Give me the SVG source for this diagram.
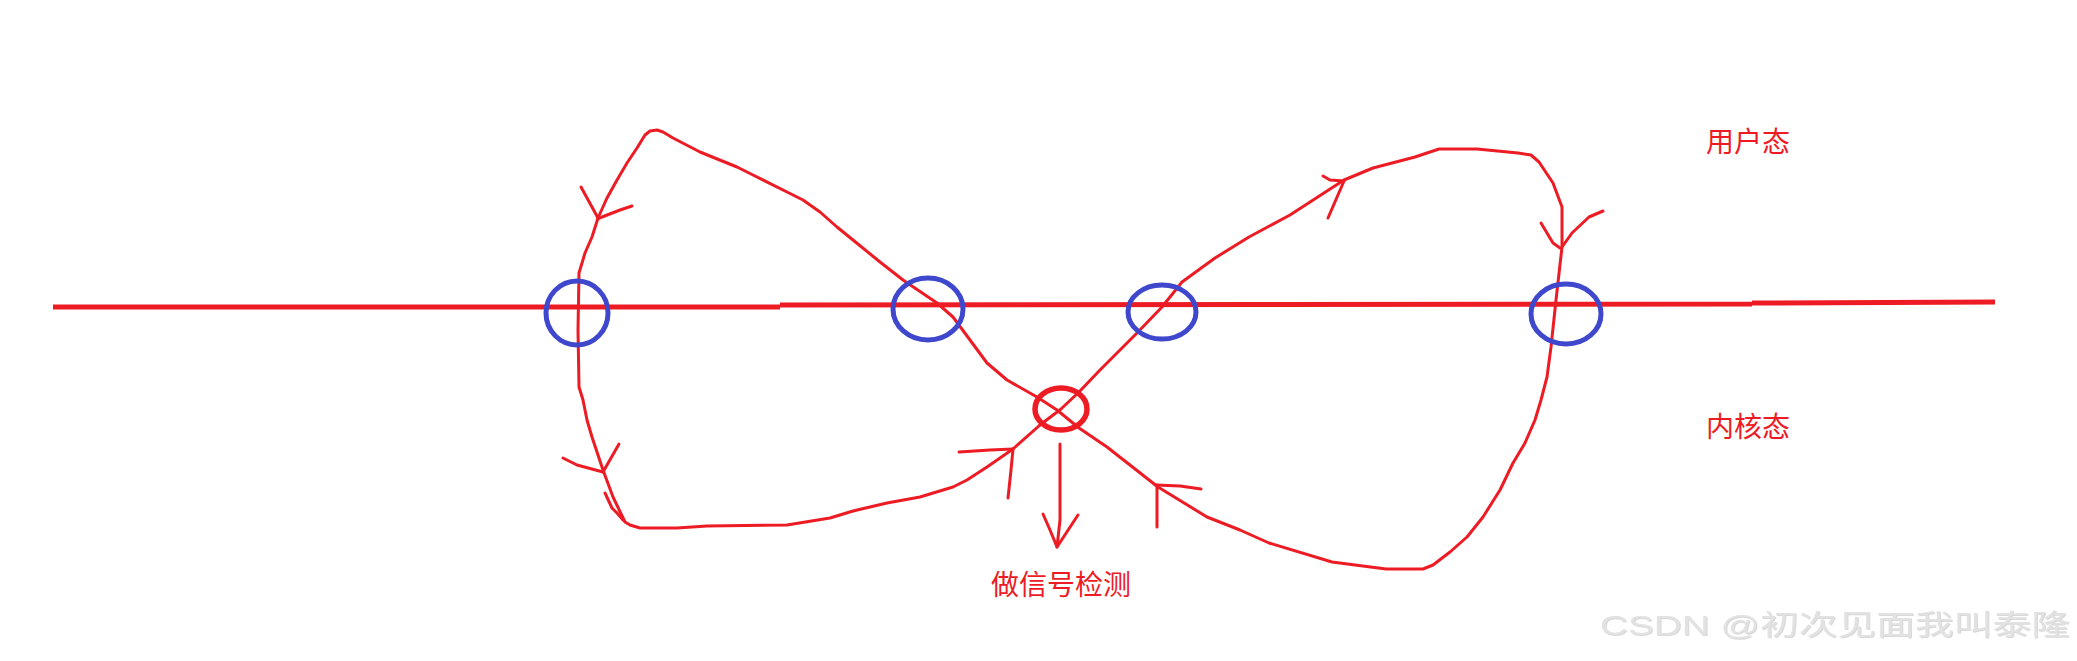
<svg xmlns="http://www.w3.org/2000/svg" width="2077" height="661" viewBox="0 0 2077 661">
<style>
.red{fill:none;stroke:#ed1c24;stroke-width:3;stroke-linejoin:round;stroke-linecap:round}
.axis{fill:none;stroke:#ed1c24;stroke-width:5}
.blue{fill:none;stroke:#3f48cc;stroke-width:5}
.redc{fill:none;stroke:#ed1c24;stroke-width:5.5}
.lbl{font-family:"Noto Sans CJK SC","Microsoft YaHei",sans-serif;font-size:28px;fill:#ed1c24}
.wm{font-family:"Liberation Sans","Noto Sans CJK SC",sans-serif;font-size:28px;fill:#e2e2e2}
</style>
<defs>
<filter id="emb" x="-5%" y="-20%" width="110%" height="140%">
<feDropShadow dx="0.8" dy="0.8" stdDeviation="0.5" flood-color="#a8a8a8" flood-opacity="0.55"/>
</filter>
</defs>
<rect width="2077" height="661" fill="#ffffff"/>
<g id="axis">
<path class="axis" d="M53,307 L780,307 M780,305 L1752,304 M1752,303 L1995,302"/>
</g>
<g id="connectors">
<!-- left loop -->
<polyline class="red" points="1037,397 1007,380 987,363 970,340 953,317 937,303 903,280 880,262 853,240 837,227 820,212 803,200 787,192 753,175 737,167 700,152 673,138 663,132 657,130 650,131 645,135 637,148 627,163 617,180 607,198 598,218 592,237 585,253 579,273 578,330 579,387 583,400 587,420 592,437 603,470 613,497 625,522 630,525 640,528 677,528 707,526 787,525 830,518 853,511 887,503 920,497 953,487 967,480 987,467 1013,449 1040,425"/>
<!-- crossing through red circle and right loop -->
<polyline class="red" points="1040,425 1061,409 1079,392 1100,370 1137,333 1162,307 1182,282 1215,258 1249,237 1290,215 1344,180 1373,168 1415,157 1439,149 1477,149 1518,153 1531,155 1539,162 1553,183 1562,207 1562,247 1556,300 1551,347 1547,377 1541,400 1535,420 1525,443 1513,463 1500,490 1483,517 1467,537 1450,552 1433,565 1423,569 1386,569 1332,562 1269,543 1240,530 1207,517 1158,487 1107,447 1079,428 1057,410 1037,397"/>
<!-- arrowheads -->
<polyline class="red" points="581,187 598,218"/>
<polyline class="red" points="632,206 620,210 602,217 598,219"/>
<polyline class="red" points="563,458 577,465 603,472"/>
<polyline class="red" points="619,444 603,472"/>
<polyline class="red" points="605,493 612,508 617,513 623,520"/>
<polyline class="red" points="959,452 990,450 1013,449"/>
<polyline class="red" points="1008,498 1011,470 1013,449"/>
<polyline class="red" points="1323,176 1330,180 1344,181"/>
<polyline class="red" points="1328,218 1344,181"/>
<polyline class="red" points="1541,223 1553,243 1560,248"/>
<polyline class="red" points="1603,211 1589,217 1572,233 1562,247"/>
<polyline class="red" points="1201,489 1180,486 1156,485"/>
<polyline class="red" points="1157,527 1157,485"/>
<polyline class="red" points="1060,444 1060,520 1057,547"/>
<polyline class="red" points="1043,514 1050,530 1057,547 1078,515"/>
</g>
<g id="node-c1"><ellipse class="blue" cx="577" cy="313" rx="31" ry="32"/></g>
<g id="node-c2"><ellipse class="blue" cx="928" cy="309" rx="35" ry="31"/></g>
<g id="node-c3"><ellipse class="blue" cx="1162" cy="312" rx="34" ry="27"/></g>
<g id="node-c4"><ellipse class="blue" cx="1566" cy="314" rx="35" ry="30"/></g>
<g id="node-signal"><ellipse class="redc" cx="1061" cy="409" rx="26" ry="21"/></g>
<g id="labels">
<text class="lbl" x="1706" y="152">用户态</text>
<text class="lbl" x="1706" y="437">内核态</text>
<text class="lbl" x="991" y="595">做信号检测</text>
</g>
<g id="watermark">
<text class="wm" x="1600" y="635" textLength="470" lengthAdjust="spacingAndGlyphs" filter="url(#emb)">CSDN @初次见面我叫泰隆</text>
</g>
</svg>
